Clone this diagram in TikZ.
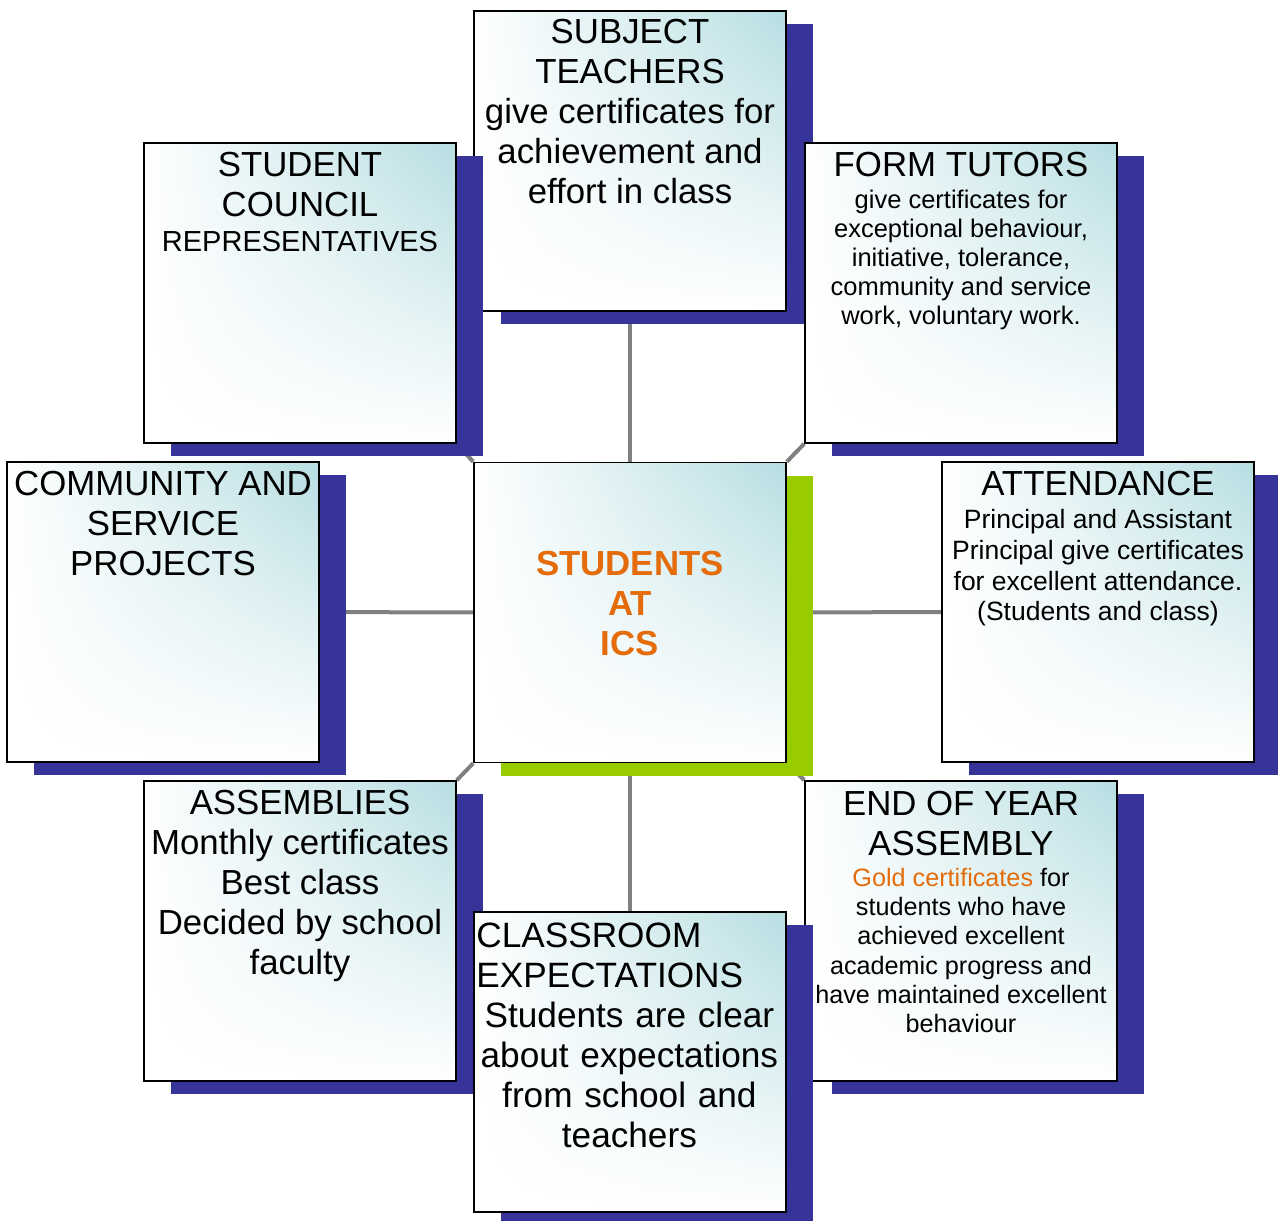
\documentclass[tikz,border=0pt]{standalone}
\usepackage{fontspec}
\setmainfont{Liberation Sans}
\usetikzlibrary{shadows,backgrounds,shadings}
\definecolor{shblue}{RGB}{54,51,153}
\definecolor{shgreen}{RGB}{153,204,0}
\definecolor{boxteal}{RGB}{183,222,226}
\definecolor{txtorange}{RGB}{228,108,10}
\definecolor{linkgray}{RGB}{128,128,128}
\newcommand\lgfont{\fontsize{34.8}{40}\selectfont}
\newcommand\smfont{\fontsize{25.5}{29}\selectfont}
\newcommand\topstrut{\rule{0pt}{28pt}}
\begin{document}
\begin{tikzpicture}[x=1pt,y=-1pt,
  panelbase/.style={draw=black, line width=1.6pt, minimum width=312pt,
    minimum height=300pt, inner sep=0pt, upper right=boxteal,
    upper left=white, lower left=white, lower right=white},
  panel/.style={panelbase, general shadow={fill=shblue, shadow xshift=27pt, shadow yshift=-13pt}},
  hub/.style={panelbase, general shadow={fill=shgreen, shadow xshift=27pt, shadow yshift=-13pt}},
  txt/.style={anchor=north, inner sep=0pt, align=center, text=black},
  link/.style={draw=linkgray, line width=4pt}]
\useasboundingbox (0,0) rectangle (1278,1221);

\node[panel] (st) at (630,161) {};
\node[panel] (sc) at (300,293) {};
\node[panel] (ft) at (961,293) {};
\node[panel] (cs) at (163,612) {};
\node[hub]   (ct) at (630,612.5) {};
\node[panel] (at) at (1098,612) {};
\node[panel] (as) at (300,931) {};
\node[panel] (ey) at (961,931) {};
\node[panel] (cl) at (630,1062) {};

\begin{pgfonlayer}{background}
\draw[link] (ct) -- (st);
\draw[link] (ct) -- (cl);
\draw[link] (ct) -- (cs);
\draw[link] (ct) -- (at);
\draw[link] (ct.north west) -- (sc.south east);
\draw[link] (ct.north east) -- (ft.south west);
\draw[link] (ct.south west) -- (as.north east);
\draw[link] (ct.south east) -- (ey.north west);
\end{pgfonlayer}

\node[txt, font=\lgfont] (st-t) at ([yshift=-5pt]st.north)
  {\topstrut SUBJECT\\TEACHERS\\give certificates for\\achievement and\\effort in class};
\node[txt, font=\lgfont] (sc-t) at ([yshift=-6pt]sc.north)
  {\topstrut STUDENT\\COUNCIL\\[-4.8pt]{\fontsize{29}{33}\selectfont REPRESENTATIVES}};
\node[txt, font=\smfont] (ft-t) at ([yshift=-6.5pt]ft.north)
  {\topstrut{\lgfont FORM TUTORS}\\[2.5pt]give certificates for\\exceptional behaviour,\\initiative, tolerance,\\community and service\\work, voluntary work.};
\node[txt, font=\lgfont] (cs-t) at ([yshift=-6.5pt]cs.north)
  {\topstrut COMMUNITY AND\\SERVICE\\PROJECTS};
\node[txt, font=\fontsize{26.5}{30.7}\selectfont] (at-t) at ([yshift=-6pt]at.north)
  {\topstrut{\lgfont ATTENDANCE}\\[2.5pt]Principal and Assistant\\Principal give certificates\\for excellent attendance.\\(Students and class)};
\node[txt, font=\bfseries\lgfont, text=txtorange] (ct-t) at ([yshift=-86pt]ct.north)
  {\topstrut STUDENTS\\AT\\ICS};
\node[txt, font=\lgfont] (as-t) at ([yshift=-6pt]as.north)
  {\topstrut ASSEMBLIES\\Monthly certificates\\Best class\\Decided by school\\faculty};
\node[txt, font=\fontsize{25.2}{29.2}\selectfont] (ey-t) at ([yshift=-7pt]ey.north)
  {\topstrut{\lgfont END OF YEAR}\\[10.8pt]{\lgfont ASSEMBLY}\\[1.8pt]\textcolor{txtorange}{Gold certificates} for\\students who have\\achieved excellent\\academic progress and\\have maintained excellent\\behaviour};
\node[anchor=north west, inner sep=0pt, text width=306pt, align=left,
      font=\fontsize{35.2}{40}\selectfont] (cl-t) at ([xshift=3pt,yshift=-8pt]cl.north west)
  {\topstrut CLASSROOM\\EXPECTATIONS\\\makebox[306pt]{Students are clear}\\\makebox[306pt]{about expectations}\\\makebox[306pt]{from school and}\\\makebox[306pt]{teachers}};
\end{tikzpicture}
\end{document}
